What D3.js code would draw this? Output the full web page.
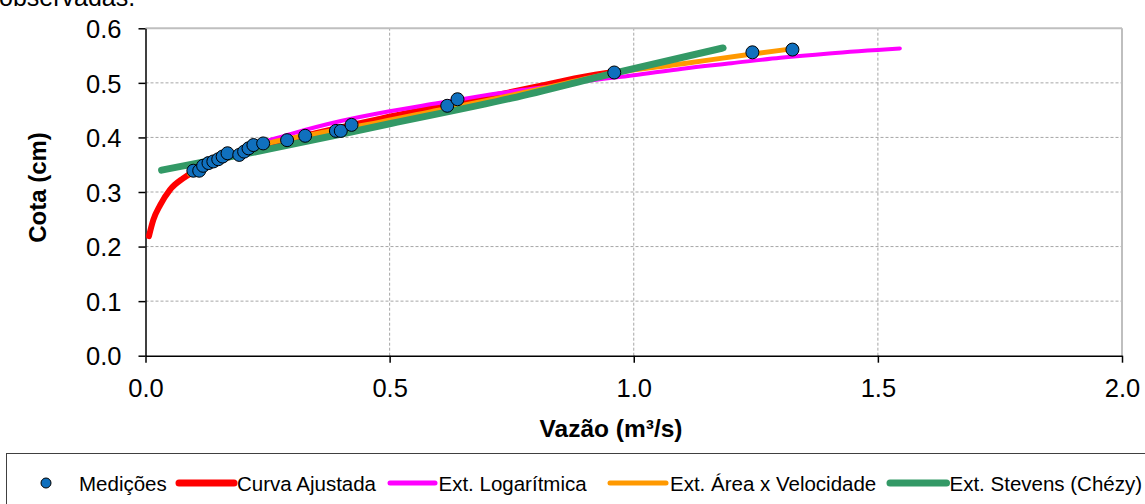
<!DOCTYPE html>
<html>
<head>
<meta charset="utf-8">
<script src="https://cdn.jsdelivr.net/npm/d3@7"></script>
<style>
  html, body { margin: 0; padding: 0; background: #fff; }
  svg { display: block; font-family: "Liberation Sans", Arial, sans-serif; }
</style>
</head>
<body>
<svg id="chart" width="1145" height="504"></svg>
<script>
// Measured discharges (m³/s) and stages
const medQ = [0.098, 0.110, 0.118, 0.129, 0.139, 0.149, 0.158, 0.168, 0.192, 0.202, 0.211, 0.221, 0.241,
              0.290, 0.327, 0.390, 0.400, 0.422, 0.618, 0.639, 0.960, 1.243, 1.325];
const medH = [0.339, 0.339, 0.348, 0.353, 0.356, 0.360, 0.365, 0.371, 0.368, 0.374, 0.380, 0.386, 0.389,
              0.395, 0.403, 0.412, 0.412, 0.423, 0.458, 0.470, 0.519, 0.556, 0.561];

// Fitted rating curve
const curvaQ = [0.007, 0.016, 0.030, 0.050, 0.077, 0.100, 0.150, 0.200, 0.300, 0.480, 0.600, 0.700, 0.800, 0.890, 0.965];
const curvaH = [0.219, 0.249, 0.276, 0.304, 0.325, 0.338, 0.357, 0.372, 0.397, 0.434, 0.456, 0.474, 0.493, 0.510, 0.521];

// Logarithmic extension
const logQ = [0.250, 0.300, 0.400, 0.500, 0.600, 0.700, 0.800, 0.900, 1.000, 1.100, 1.200, 1.300, 1.400, 1.545];
const logH = [0.394, 0.407, 0.430, 0.448, 0.463, 0.478, 0.490, 0.503, 0.514, 0.526, 0.536, 0.546, 0.554, 0.563];

// Area x velocity extension
const avQ = [0.090, 0.150, 0.255, 0.350, 0.480, 0.600, 0.700, 0.800, 0.960, 1.100, 1.243, 1.330];
const avH = [0.333, 0.358, 0.390, 0.407, 0.428, 0.450, 0.468, 0.487, 0.518, 0.535, 0.553, 0.563];

// Stevens (Chézy) extension
const stevQ = [0.033, 0.250, 0.500, 0.750, 0.960, 1.183];
const stevH = [0.340, 0.378, 0.425, 0.472, 0.518, 0.564];

const xTicks = [0, 0.5, 1.0, 1.5, 2.0];
const yTicks = [0, 0.1, 0.2, 0.3, 0.4, 0.5, 0.6];

const legendItems = [
  { label: "Medições", kind: "dot", color: "#1070BE" },
  { label: "Curva Ajustada", kind: "line", color: "#FF0000", w: 7 },
  { label: "Ext. Logarítmica", kind: "line", color: "#FF00FF", w: 5 },
  { label: "Ext. Área x Velocidade", kind: "line", color: "#FF9900", w: 5 },
  { label: "Ext. Stevens (Chézy)", kind: "line", color: "#339966", w: 7 }
];

const svg = d3.select("#chart");
const x = d3.scaleLinear().domain([0, 2]).range([145.5, 1122]);
const y = d3.scaleLinear().domain([0, 0.6]).range([355.7, 28.3]);

// caption fragment above the chart
svg.append("text").attr("x", -1).attr("y", 6).attr("font-size", 25).attr("fill", "#000")
  .text("observadas.");

// gridlines
const grid = svg.append("g");
yTicks.filter(v => v > 0 && v < 0.6).forEach(v => {
  grid.append("line").attr("x1", x(0)).attr("x2", x(2)).attr("y1", y(v)).attr("y2", y(v))
    .attr("stroke", "#a6a6a6").attr("stroke-width", 1).attr("stroke-dasharray", "3,2");
});
xTicks.filter(v => v > 0 && v < 2).forEach(v => {
  grid.append("line").attr("x1", x(v)).attr("x2", x(v)).attr("y1", y(0)).attr("y2", y(0.6))
    .attr("stroke", "#a6a6a6").attr("stroke-width", 1).attr("stroke-dasharray", "3,2");
});
// plot-area border (top and right)
grid.append("line").attr("x1", x(0)).attr("x2", x(2)).attr("y1", y(0.6)).attr("y2", y(0.6))
  .attr("stroke", "#bfbfbf").attr("stroke-width", 2);
grid.append("line").attr("x1", x(2)).attr("x2", x(2)).attr("y1", y(0.6)).attr("y2", y(0))
  .attr("stroke", "#bfbfbf").attr("stroke-width", 2);

// axes
const xAxis = d3.axisBottom(x).tickValues(xTicks).tickFormat(d3.format(".1f")).tickSize(7).tickSizeOuter(0);
const yAxis = d3.axisLeft(y).tickValues(yTicks).tickFormat(d3.format(".1f")).tickSize(7).tickSizeOuter(0);

const gx = svg.append("g").attr("transform", `translate(0,${y(0)})`).call(xAxis);
const gy = svg.append("g").attr("transform", `translate(${x(0)},0)`).call(yAxis);
[gx, gy].forEach(g => {
  g.select(".domain").attr("stroke", "#000").attr("stroke-width", 1.5);
  g.selectAll(".tick line").attr("stroke", "#000").attr("stroke-width", 1.5);
  g.selectAll(".tick text").attr("font-size", 25.5).attr("fill", "#000")
    .attr("font-family", "Liberation Sans, Arial, sans-serif");
});
gx.selectAll(".tick text").attr("dy", "0").attr("y", 41);
gy.selectAll(".tick text").attr("x", -24).attr("dy", "0.36em");

// axis titles
svg.append("text").attr("transform", `translate(45.5,187.5) rotate(-90)`).attr("text-anchor", "middle")
  .attr("font-size", 24).attr("font-weight", "bold").attr("fill", "#000").text("Cota (cm)");
svg.append("text").attr("x", 611).attr("y", 437).attr("text-anchor", "middle")
  .attr("font-size", 24.5).attr("font-weight", "bold").attr("fill", "#000").text("Vazão (m³/s)");

// curves
const line = d3.line().x(d => x(d[0])).y(d => y(d[1])).curve(d3.curveMonotoneX);
const series = [
  { q: curvaQ, h: curvaH, color: "#FF0000", w: 6 },
  { q: logQ, h: logH, color: "#FF00FF", w: 4 },
  { q: avQ, h: avH, color: "#FF9900", w: 5 },
  { q: stevQ, h: stevH, color: "#339966", w: 7 }
];
series.forEach(s => {
  svg.append("path").datum(d3.zip(s.q, s.h)).attr("d", line)
    .attr("fill", "none").attr("stroke", s.color).attr("stroke-width", s.w)
    .attr("stroke-linecap", "round").attr("stroke-linejoin", "round");
});

// measurements
svg.append("g").selectAll("circle").data(d3.zip(medQ, medH)).join("circle")
  .attr("cx", d => x(d[0])).attr("cy", d => y(d[1])).attr("r", 6.5)
  .attr("fill", "#1070BE").attr("stroke", "#000").attr("stroke-width", 1);

// legend
const lg = svg.append("g");
lg.append("rect").attr("x", 6.5).attr("y", 453.5).attr("width", 1160).attr("height", 80)
  .attr("fill", "#fff").attr("stroke", "#404040").attr("stroke-width", 1);
const legendPos = [
  { sym: [46, 46], tx: 79 },
  { sym: [179, 234], tx: 237 },
  { sym: [390, 435], tx: 438.5 },
  { sym: [610, 666], tx: 670 },
  { sym: [890, 946.5], tx: 949.5 }
];
const legendY = 483;
legendItems.forEach((it, i) => {
  const p = legendPos[i];
  if (it.kind === "dot") {
    lg.append("circle").attr("cx", p.sym[0]).attr("cy", legendY).attr("r", 5)
      .attr("fill", it.color).attr("stroke", "#000").attr("stroke-width", 1);
  } else {
    lg.append("line").attr("x1", p.sym[0]).attr("x2", p.sym[1]).attr("y1", legendY).attr("y2", legendY)
      .attr("stroke", it.color).attr("stroke-width", it.w).attr("stroke-linecap", "round");
  }
  lg.append("text").attr("x", p.tx).attr("y", legendY + 7.5).attr("font-size", 20.5).attr("fill", "#000")
    .text(it.label);
});
</script>
</body>
</html>
